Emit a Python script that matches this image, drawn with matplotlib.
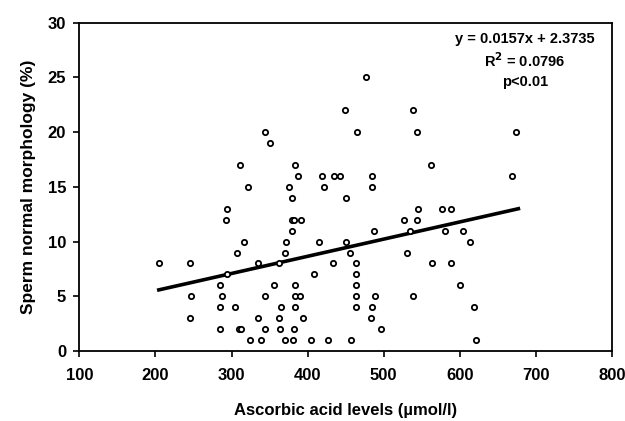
import matplotlib
matplotlib.use("Agg")
import matplotlib.pyplot as plt
import numpy as np

plt.rcParams['font.family'] = ['Liberation Sans', 'DejaVu Sans']
plt.rcParams['font.weight'] = 'bold'

# Data (ascorbic acid, sperm normal morphology)
y25 = [477]
y22 = [448.5, 538]
y20 = [344, 464.5, 544, 674]
y19 = [350]
y17 = [311, 383, 562]
y16 = [388, 419, 435, 443, 485, 668.5]
y15 = [322, 375, 421, 485]
y14 = [379, 450.5]
y13 = [294.5, 545.5, 577, 588]
y12 = [292.5, 379, 382.5, 391.5, 527, 544]
y11 = [379, 487, 535, 580.5, 604.5]
y10 = [316.5, 371.5, 415.5, 450.5, 613.5]
y9 = [307, 370, 456, 531]
y8 = [204.5, 245, 335, 363, 434, 463.5, 564, 588]
y7 = [294, 408, 463.5]
y6 = [285.5, 356.5, 384, 463.5, 600.5]
y5 = [246.5, 287, 344, 384, 390, 463.5, 488.5, 538]
y4 = [285.5, 304, 365.5, 384, 463.5, 485, 619]
y3 = [245, 335, 362.5, 393.5, 483.5]
y2 = [285.5, 309.5, 313, 344, 364, 382.5, 496]
y1 = [324, 338.5, 370, 380.5, 404.5, 426.5, 457.5, 621]

groups = {25: y25, 22: y22, 20: y20, 19: y19, 17: y17, 16: y16, 15: y15,
          14: y14, 13: y13, 12: y12, 11: y11, 10: y10, 9: y9, 8: y8, 7: y7,
          6: y6, 5: y5, 4: y4, 3: y3, 2: y2, 1: y1}

ascorbic = []
morphology = []
for val, xs in groups.items():
    ascorbic.extend(xs)
    morphology.extend([val] * len(xs))
ascorbic = np.array(ascorbic)
morphology = np.array(morphology)

slope = 0.0157
intercept = 2.3735
eq_lines = ["y = 0.0157x + 2.3735", "R$^{2}$ = 0.0796", "p<0.01"]

xticks = [100, 200, 300, 400, 500, 600, 700, 800]
yticks = [0, 5, 10, 15, 20, 25, 30]

fig = plt.figure(figsize=(6.25, 4.21), dpi=100)
ax = fig.add_axes([79.3/625, 1-351/421, (612-79.3)/625, (351-22.7)/421])

ax.plot(ascorbic, morphology, linestyle='none', marker='o', ms=3.8,
        mfc='white', mec='black', mew=1.3, zorder=3)

xl = np.array([ascorbic.min(), 677])
ax.plot(xl, slope*xl + intercept, color='black', lw=2.6, zorder=2)

ax.set_xlim(100, 800)
ax.set_ylim(0, 30)
ax.set_xticks(xticks)
ax.set_yticks(yticks)
ax.tick_params(direction='out', length=4.5, width=1.2, labelsize=12)
ax.tick_params(axis='x', pad=8)
ax.tick_params(axis='y', pad=5)
for lab in ax.get_xticklabels() + ax.get_yticklabels():
    lab.set_fontweight('bold')
for s in ax.spines.values():
    s.set_linewidth(1.3)

ax.set_xlabel("Ascorbic acid levels (µmol/l)", fontsize=12, fontweight='bold', labelpad=14)
ax.set_ylabel("Sperm normal morphology (%)", fontsize=12.5, fontweight='bold', labelpad=8)

for i, t in enumerate(eq_lines):
    fig.text(525/625, 1-(39+21.5*i)/421, t, ha='center', va='center',
             fontsize=10.5, fontweight='bold')

fig.savefig("out.png", dpi=100)
